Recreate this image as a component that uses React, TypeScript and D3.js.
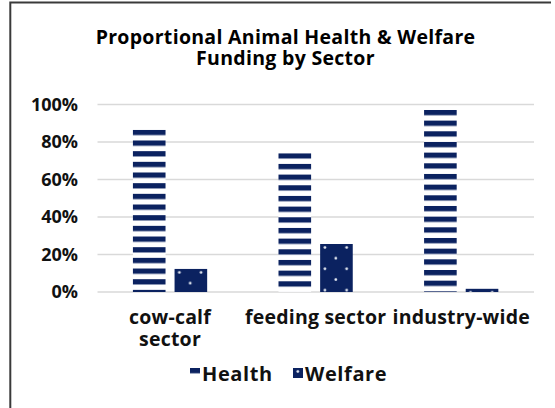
import React from "react";
import * as d3 from "d3";

const categories = ["cow-calf sector", "feeding sector", "industry-wide"];
const categoryLines = [["cow-calf", "sector"], ["feeding sector"], ["industry-wide"]];
const seriesNames = ["Health", "Welfare"];
const healthValues = [0.865, 0.74, 0.971];
const welfareValues = [0.123, 0.256, 0.017];
const yTicks = [0, 0.2, 0.4, 0.6, 0.8, 1.0];
const titleLines = ["Proportional Animal Health & Welfare", "Funding by Sector"];

const W = 555;
const H = 408;
const NAVY = "#0b2260";
const FONT = "'Open Sans', Lato, sans-serif";

export default function App() {
  const x0 = d3
    .scaleBand<string>()
    .domain(categories)
    .range([97.25, 534])
    .paddingInner(0.49)
    .paddingOuter(0.245);
  const x1 = d3
    .scaleBand<string>()
    .domain(seriesNames)
    .range([0, x0.bandwidth()])
    .paddingInner(0.217);
  const y = d3.scaleLinear().domain([0, 1]).range([292, 104.5]);
  const fmt = d3.format(".0%");
  const values: Record<string, number[]> = { Health: healthValues, Welfare: welfareValues };
  const fills: Record<string, string> = { Health: "url(#stripes)", Welfare: "url(#dots)" };

  return (
    <svg width={W} height={H} style={{ position: "absolute", left: 0, top: 0, background: "#fff" }}>
      <defs>
        <pattern id="stripes" patternUnits="userSpaceOnUse" width={12} height={10.67}>
          <rect x={0} y={0} width={12} height={10.67} fill="#fff" />
          <rect x={0} y={0} width={12} height={5.3} fill={NAVY} />
        </pattern>
        <pattern id="dots" patternUnits="userSpaceOnUse" width={21.7} height={21.33}>
          <rect x={0} y={0} width={21.7} height={21.33} fill={NAVY} />
          <circle cx={4.8} cy={3.5} r={1.4} fill="#e6ebf3" />
          <circle cx={15.65} cy={14.2} r={1.4} fill="#e6ebf3" />
        </pattern>
      </defs>
      <rect x={0} y={0} width={W} height={H} fill="#fff" />
      <path d={`M10.3,${H} V2.5 H551`} fill="none" stroke="#3a3a3a" strokeWidth={2} />

      <text
        textAnchor="middle"
        fontFamily={FONT}
        fontWeight={700}
        fontSize={19.5}
        letterSpacing={0.3}
        fill="#000"
      >
        {titleLines.map((t, i) => (
          <tspan key={t} x={285.5} y={43.5 + i * 21.5}>
            {t}
          </tspan>
        ))}
      </text>

      {yTicks.map((t) => (
        <g key={t}>
          <line x1={97.5} x2={534} y1={y(t)} y2={y(t)} stroke="#d9d9d9" strokeWidth={1.5} />
          <text
            x={78}
            y={y(t)}
            dy="0.36em"
            textAnchor="end"
            fontFamily={FONT}
            fontWeight={700}
            fontSize={18}
            fill="#111"
          >
            {fmt(t)}
          </text>
        </g>
      ))}

      {categories.map((c, ci) => (
        <g key={c}>
          {seriesNames.map((s) => {
            const v = values[s][ci];
            const bx = (x0(c) ?? 0) + (x1(s) ?? 0);
            return (
              <g key={s} transform={`translate(${bx},${y(v)})`}>
                <rect x={0} y={0} width={x1.bandwidth()} height={y(0) - y(v)} fill={fills[s]} />
              </g>
            );
          })}
          <text
            textAnchor="middle"
            fontFamily={FONT}
            fontWeight={700}
            fontSize={19.5}
            letterSpacing={0.2}
            fill="#111"
          >
            {categoryLines[ci].map((ln, li) => (
              <tspan key={ln} x={(x0(c) ?? 0) + x0.bandwidth() / 2} y={324 + li * 22}>
                {ln}
              </tspan>
            ))}
          </text>
        </g>
      ))}

      {seriesNames.map((s, i) => {
        const lx = i === 0 ? 190 : 293;
        return (
          <g key={s}>
            <g transform={`translate(${lx},368)`}>
              <rect x={0} y={0} width={10} height={10} fill={fills[s]} />
            </g>
            <text
              x={lx + 12}
              y={381}
              fontFamily={FONT}
              fontWeight={700}
              fontSize={20}
              letterSpacing={0.6}
              fill="#111"
            >
              {s}
            </text>
          </g>
        );
      })}
    </svg>
  );
}
